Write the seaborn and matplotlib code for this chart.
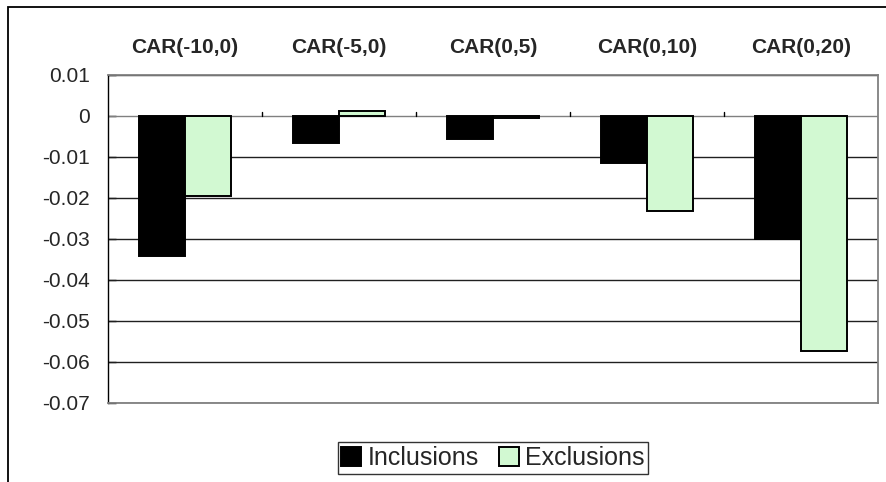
import matplotlib
matplotlib.use("Agg")
import matplotlib.pyplot as plt
from matplotlib.patches import Rectangle
import seaborn as sns
import pandas as pd

# Cumulative abnormal returns by event window
windows = ["CAR(-10,0)", "CAR(-5,0)", "CAR(0,5)", "CAR(0,10)", "CAR(0,20)"]
inclusions = [-0.0342, -0.0065, -0.0056, -0.0115, -0.0300]
exclusions = [-0.0195, 0.0013, -0.0004, -0.0231, -0.0573]
groups = ["Inclusions", "Exclusions"]
colors = ["#000000", "#CCFFCC"]
y_ticks = [0.01, 0.0, -0.01, -0.02, -0.03, -0.04, -0.05, -0.06, -0.07]
y_labels = ["0.01", "0", "-0.01", "-0.02", "-0.03", "-0.04", "-0.05", "-0.06", "-0.07"]

df = pd.DataFrame({
    "window": windows * 2,
    "group": [groups[0]] * len(windows) + [groups[1]] * len(windows),
    "car": inclusions + exclusions,
})

sns.set_style("white")
plt.rcParams["font.family"] = ["Liberation Sans", "DejaVu Sans"]

fig = plt.figure(figsize=(8.86, 4.82), dpi=100)
ax = fig.add_axes([108 / 886, 1 - 403 / 482, 770 / 886, 328 / 482])

sns.barplot(data=df, x="window", y="car", hue="group", order=windows,
            hue_order=groups, palette=colors, width=0.6, edgecolor="black",
            linewidth=1.4, ax=ax, zorder=3, legend=True)

ax.set_xlim(-0.5, len(windows) - 0.5)
ax.set_ylim(-0.07, 0.01)
ax.set_yticks(y_ticks)
ax.set_yticklabels(y_labels, fontsize=15)
ax.set_xlabel("")
ax.set_ylabel("")

# horizontal gridlines
for y in y_ticks:
    ax.axhline(y, color="#202020" if y != 0 else "#808080", lw=1.0, zorder=1)

# category axis at zero with tick marks between groups
for i in range(len(windows) - 1):
    ax.plot([i + 0.5, i + 0.5], [0, 0.0009], color="black", lw=1.0, zorder=2)

# category names above the plot area
ax.xaxis.tick_top()
ax.tick_params(axis="x", length=0, pad=13)
for lbl in ax.get_xticklabels():
    lbl.set_fontsize(15)
    lbl.set_fontweight("bold")

ax.tick_params(axis="y", direction="in", length=6, width=1.0, color="black",
               left=True, pad=13)

for side in ["top", "right", "bottom"]:
    ax.spines[side].set_color("#808080")
    ax.spines[side].set_linewidth(1.3)
ax.spines["left"].set_color("black")
ax.spines["left"].set_linewidth(1.0)

leg = ax.legend(loc="center", bbox_to_anchor=(493 / 886, 24 / 482),
                bbox_transform=fig.transFigure, ncol=2, frameon=True,
                fancybox=False, shadow=False, fontsize=18,
                handlelength=0.8, handleheight=0.8, handletextpad=0.25,
                columnspacing=0.8, borderpad=0.15, borderaxespad=0)
leg.get_frame().set_edgecolor("black")
leg.get_frame().set_linewidth(1.0)

# outer chart frame
fig.patches.append(Rectangle((8 / 886, -0.1), 1.2, (482 - 7) / 482 + 0.1,
                             transform=fig.transFigure, fill=False,
                             edgecolor="black", lw=1.3, clip_on=False))

fig.savefig("out.png", dpi=100)
